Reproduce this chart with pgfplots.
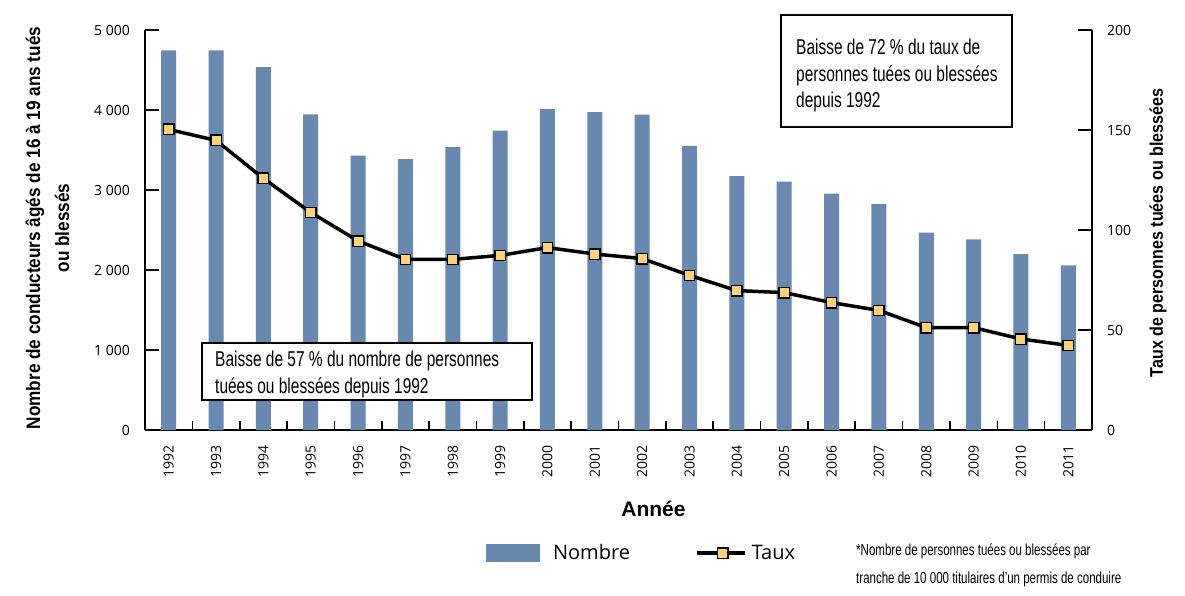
\documentclass[border=0pt]{standalone}
\usepackage{pgfplots}
\pgfplotsset{compat=1.18}
\usepackage{fontspec}
\setmainfont{Open Sans}
\newfontfamily\condfont[FakeStretch=0.72]{Liberation Sans}
\newfontfamily\titlefont[FakeStretch=0.88]{Liberation Sans}
\newfontfamily\arialfont{Liberation Sans}
\definecolor{barblue}{HTML}{6788AF}
\definecolor{markyellow}{HTML}{F9D27A}
\pgfplotsset{
  tauxlegend/.style={legend image code/.code={%
    \draw[black, line width=3.5pt] (0pt,0pt) -- (48pt,0pt);
    \draw[black, line width=1.4pt, fill=markyellow] (20.8pt,-5.2pt) rectangle (31.2pt,5.2pt);
    \path[draw=none] (0pt,0pt) -- (55pt,0pt);}},
  nombrelegend/.style={legend image code/.code={%
    \fill[barblue, draw=none] (0pt,-9pt) rectangle (54pt,9pt);
    \path[draw=none] (0pt,0pt) -- (67pt,0pt);}}
}
\begin{document}
\begin{tikzpicture}
\useasboundingbox (0pt,0pt) rectangle (1185pt,595pt);
\fill[white] (0pt,0pt) rectangle (1185pt,595pt);
\begin{axis}[
  at={(145pt,165pt)}, anchor=south west,
  scale only axis, width=947pt, height=400pt,
  xmin=-0.5, xmax=19.5, ymin=0, ymax=5000,
  axis x line*=bottom, axis y line*=left,
  axis line style={black, line width=1.6pt},
  tick align=inside,
  major tick length=14pt, minor tick length=9pt,
  every tick/.style={black, line width=1.6pt},
  xtick={0,...,19},
  xticklabels={1992,1993,1994,1995,1996,1997,1998,1999,2000,2001,2002,2003,2004,2005,2006,2007,2008,2009,2010,2011},
  major x tick style={draw=none},
  minor xtick={-0.5,0.5,...,19.5},
  ytick={0,1000,2000,3000,4000,5000},
  yticklabels={0,1~000,2~000,3~000,4~000,5~000},
  tick label style={font=\fontsize{14}{14}\selectfont},
  xticklabel style={rotate=90, anchor=east, inner sep=0pt, xshift=-15pt},
  yticklabel style={anchor=east, inner sep=0pt, xshift=-15pt},
  clip=false,
]
\addplot[ybar, bar width=15pt, bar shift=0pt, fill=barblue, draw=none] coordinates {
(0,4745) (1,4745) (2,4535) (3,3945) (4,3430) (5,3385) (6,3535) (7,3742) (8,4010) (9,3975)
(10,3942) (11,3552) (12,3172) (13,3105) (14,2955) (15,2822) (16,2467) (17,2384) (18,2197) (19,2058)};
\end{axis}
\begin{axis}[
  at={(145pt,165pt)}, anchor=south west,
  scale only axis, width=947pt, height=400pt,
  xmin=-0.5, xmax=19.5, ymin=0, ymax=200,
  axis x line=none, axis y line*=right,
  axis line style={black, line width=1.6pt},
  tick align=inside,
  major tick length=14pt,
  every tick/.style={black, line width=1.6pt},
  ytick={0,50,100,150,200},
  yticklabels={0,50,100,150,200},
  tick label style={font=\fontsize{14}{14}\selectfont},
  yticklabel style={anchor=west, inner sep=0pt, xshift=15pt},
  clip=false,
  legend style={at={(0.3601,-0.3075)}, anchor=west, draw=none, fill=none,
    inner sep=0pt, outer sep=0pt, column sep=0pt,
    nodes={inner sep=0pt, outer sep=0pt},
    font=\fontsize{20}{20}\selectfont,
    /tikz/every even column/.append style={column sep=65pt}},
  legend columns=2,
  legend cell align=left,
]
\addlegendimage{nombrelegend}
\addlegendentry{Nombre}
\addplot[black, line width=3.5pt, mark=square*, mark size=5.2pt,
  mark options={fill=markyellow, draw=black, line width=1.4pt}, tauxlegend]
coordinates {
(0,150.3) (1,144.8) (2,125.8) (3,108.8) (4,94.5) (5,85.3) (6,85.3) (7,87.3) (8,91.2) (9,88.0)
(10,85.7) (11,77.3) (12,69.7) (13,68.7) (14,63.7) (15,59.8) (16,51.2) (17,51.2) (18,45.5) (19,42.3)};
\addlegendentry{Taux}
\end{axis}
% annotation boxes
\draw[black, line width=1.2pt, fill=white] (781pt,468pt) rectangle (1012pt,580pt);
\node[anchor=base west, inner sep=0pt] at (796pt,540pt) {\condfont\fontsize{21.5}{26}\selectfont Baisse de 72 \% du taux de};
\node[anchor=base west, inner sep=0pt] at (796pt,513.5pt) {\condfont\fontsize{21.5}{26}\selectfont personnes tuées ou blessées};
\node[anchor=base west, inner sep=0pt] at (796pt,487pt) {\condfont\fontsize{21.5}{26}\selectfont depuis 1992};
\draw[black, line width=1.2pt, fill=white] (202pt,195pt) rectangle (532pt,252pt);
\node[anchor=base west, inner sep=0pt] at (215pt,229pt) {\condfont\fontsize{21.5}{26}\selectfont Baisse de 57 \% du nombre de personnes};
\node[anchor=base west, inner sep=0pt] at (215pt,202pt) {\condfont\fontsize{21.5}{26}\selectfont tuées ou blessées depuis 1992};
% axis titles
\node[anchor=base, inner sep=0pt] at (653.5pt,79pt) {\arialfont\bfseries\fontsize{21}{21}\selectfont Année};
\node[rotate=90, align=center, inner sep=0pt, font=\titlefont\bfseries\fontsize{19.5}{29}\selectfont] at (47.5pt,367pt) {Nombre de conducteurs âgés de 16 à 19 ans tués\\ou blessés};
\node[rotate=90, inner sep=0pt, font=\titlefont\bfseries\fontsize{18.3}{22}\selectfont] at (1158pt,362pt) {Taux de personnes tuées ou blessées};
% footnote
\node[anchor=base west, inner sep=0pt] at (856pt,40pt) {\condfont\fontsize{16}{20}\selectfont *Nombre de personnes tuées ou blessées par};
\node[anchor=base west, inner sep=0pt] at (856pt,12pt) {\condfont\fontsize{16}{20}\selectfont tranche de 10~000 titulaires d’un permis de conduire};
\end{tikzpicture}
\end{document}
